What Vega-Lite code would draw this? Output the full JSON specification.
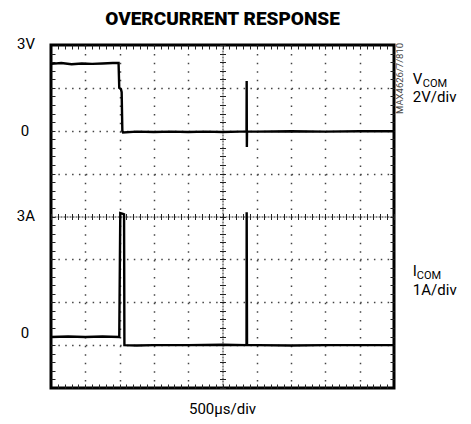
{
  "$schema": "https://vega.github.io/schema/vega-lite/v6.json",
  "autosize": "none",
  "width": 343,
  "height": 343,
  "padding": {"left": 51, "top": 45, "right": 77, "bottom": 36},
  "background": "white",
  "config": {
    "view": {"stroke": "black", "strokeWidth": 3},
    "text": {"font": "Roboto, Liberation Sans, sans-serif", "fontSize": 15, "color": "black"}
  },
  "resolve": {"axis": {"x": "independent", "y": "independent"}},
  "layer": [
    {
      "data": {"values": [
        {"series": "V", "t": 0, "v": 7.56}, {"series": "V", "t": 0.3, "v": 7.58}, {"series": "V", "t": 0.6, "v": 7.55},
        {"series": "V", "t": 0.9, "v": 7.57}, {"series": "V", "t": 1.2, "v": 7.56}, {"series": "V", "t": 1.5, "v": 7.57},
        {"series": "V", "t": 1.8, "v": 7.58}, {"series": "V", "t": 1.97, "v": 7.58}, {"series": "V", "t": 1.99, "v": 7.0},
        {"series": "V", "t": 2.04, "v": 6.97}, {"series": "V", "t": 2.06, "v": 6.9}, {"series": "V", "t": 2.08, "v": 6.0},
        {"series": "V", "t": 2.1, "v": 5.96}, {"series": "V", "t": 2.5, "v": 5.98}, {"series": "V", "t": 3, "v": 5.97},
        {"series": "V", "t": 3.5, "v": 5.98}, {"series": "V", "t": 4, "v": 5.97}, {"series": "V", "t": 4.5, "v": 5.98},
        {"series": "V", "t": 5, "v": 5.97}, {"series": "V", "t": 5.5, "v": 5.98}, {"series": "V", "t": 5.7, "v": 5.98},
        {"series": "V", "t": 5.705, "v": 7.16}, {"series": "V", "t": 5.71, "v": 5.62}, {"series": "V", "t": 5.715, "v": 5.98},
        {"series": "V", "t": 6, "v": 5.98}, {"series": "V", "t": 7, "v": 5.99}, {"series": "V", "t": 8, "v": 5.98},
        {"series": "V", "t": 9, "v": 5.99}, {"series": "V", "t": 10, "v": 5.99},
        {"series": "I", "t": 0, "v": 1.19}, {"series": "I", "t": 0.5, "v": 1.2}, {"series": "I", "t": 1, "v": 1.19},
        {"series": "I", "t": 1.5, "v": 1.2}, {"series": "I", "t": 1.99, "v": 1.19}, {"series": "I", "t": 2.02, "v": 4.08},
        {"series": "I", "t": 2.1, "v": 4.06}, {"series": "I", "t": 2.13, "v": 4.05}, {"series": "I", "t": 2.14, "v": 1.0},
        {"series": "I", "t": 2.5, "v": 0.99}, {"series": "I", "t": 3, "v": 1.0}, {"series": "I", "t": 4, "v": 1.0},
        {"series": "I", "t": 5, "v": 1.01}, {"series": "I", "t": 5.7, "v": 1.0}, {"series": "I", "t": 5.705, "v": 4.1},
        {"series": "I", "t": 5.715, "v": 1.0}, {"series": "I", "t": 6, "v": 1.0}, {"series": "I", "t": 7, "v": 0.99},
        {"series": "I", "t": 8, "v": 1.0}, {"series": "I", "t": 9, "v": 1.0}, {"series": "I", "t": 10, "v": 1.0}
      ]},
      "mark": {"type": "line", "color": "black", "strokeWidth": 2.4},
      "encoding": {
        "detail": {"field": "series"},
        "x": {"field": "t", "type": "quantitative", "scale": {"domain": [0, 10], "nice": false, "zero": false},
              "axis": {"orient": "bottom", "values": [1, 2, 3, 4, 6, 7, 8, 9], "grid": true, "gridDash": [1.5, 7.075], "gridColor": "#444", "gridWidth": 1.5,
                       "ticks": false, "labels": false, "domain": false, "title": null}},
        "y": {"field": "v", "type": "quantitative", "scale": {"domain": [0, 8], "nice": false, "zero": false},
              "axis": {"orient": "left", "values": [1, 2, 3, 5, 6, 7], "grid": true, "gridDash": [1.5, 5.36], "gridColor": "#444", "gridWidth": 1.5,
                       "ticks": false, "labels": false, "domain": false, "title": null}}
      }
    },
    {
      "data": {"values": [{"t": 0, "v": 0}]},
      "mark": {"type": "point", "opacity": 0},
      "encoding": {
        "x": {"field": "t", "type": "quantitative", "scale": {"domain": [0, 10], "nice": false, "zero": false},
              "axis": {"orient": "bottom", "offset": -171.5, "values": [0,0.2,0.4,0.6,0.8,1,1.2,1.4,1.6,1.8,2,2.2,2.4,2.6,2.8,3,3.2,3.4,3.6,3.8,4,4.2,4.4,4.6,4.8,5,5.2,5.4,5.6,5.8,6,6.2,6.4,6.6,6.8,7,7.2,7.4,7.6,7.8,8,8.2,8.4,8.6,8.8,9,9.2,9.4,9.6,9.8,10],
                       "tickSize": 3, "tickColor": "#222", "tickWidth": 1, "domain": true, "domainColor": "#222", "domainWidth": 1, "domainDash": [2, 1],
                       "labels": false, "grid": false, "title": null}},
        "y": {"field": "v", "type": "quantitative", "scale": {"domain": [0, 8], "nice": false, "zero": false},
              "axis": {"orient": "left", "offset": -171.5, "values": [0,0.2,0.4,0.6,0.8,1,1.2,1.4,1.6,1.8,2,2.2,2.4,2.6,2.8,3,3.2,3.4,3.6,3.8,4,4.2,4.4,4.6,4.8,5,5.2,5.4,5.6,5.8,6,6.2,6.4,6.6,6.8,7,7.2,7.4,7.6,7.8,8],
                       "tickSize": 3, "tickColor": "#222", "tickWidth": 1, "domain": true, "domainColor": "#222", "domainWidth": 1, "domainDash": [2, 1],
                       "labels": false, "grid": false, "title": null}}
      }
    },
    {
      "data": {"values": [{"t": 0, "v": 0}]},
      "mark": {"type": "point", "opacity": 0},
      "encoding": {
        "x": {"field": "t", "type": "quantitative", "scale": {"domain": [0, 10], "nice": false, "zero": false},
              "axis": {"orient": "top", "offset": -171.5, "values": [0,0.2,0.4,0.6,0.8,1,1.2,1.4,1.6,1.8,2,2.2,2.4,2.6,2.8,3,3.2,3.4,3.6,3.8,4,4.2,4.4,4.6,4.8,5,5.2,5.4,5.6,5.8,6,6.2,6.4,6.6,6.8,7,7.2,7.4,7.6,7.8,8,8.2,8.4,8.6,8.8,9,9.2,9.4,9.6,9.8,10],
                       "tickSize": 3, "tickColor": "#222", "tickWidth": 1, "domain": false,
                       "labels": false, "grid": false, "title": null}},
        "y": {"field": "v", "type": "quantitative", "scale": {"domain": [0, 8], "nice": false, "zero": false},
              "axis": {"orient": "right", "offset": -171.5, "values": [0,0.2,0.4,0.6,0.8,1,1.2,1.4,1.6,1.8,2,2.2,2.4,2.6,2.8,3,3.2,3.4,3.6,3.8,4,4.2,4.4,4.6,4.8,5,5.2,5.4,5.6,5.8,6,6.2,6.4,6.6,6.8,7,7.2,7.4,7.6,7.8,8],
                       "tickSize": 3, "tickColor": "#222", "tickWidth": 1, "domain": false,
                       "labels": false, "grid": false, "title": null}}
      }
    },
    {
      "data": {"values": [{"t": 0, "v": 0}]},
      "mark": {"type": "point", "opacity": 0},
      "encoding": {
        "x": {"field": "t", "type": "quantitative", "scale": {"domain": [0, 10], "nice": false, "zero": false},
              "axis": {"orient": "top", "offset": -343, "values": [0.2,0.4,0.6,0.8,1,1.2,1.4,1.6,1.8,2,2.2,2.4,2.6,2.8,3,3.2,3.4,3.6,3.8,4,4.2,4.4,4.6,4.8,5,5.2,5.4,5.6,5.8,6,6.2,6.4,6.6,6.8,7,7.2,7.4,7.6,7.8,8,8.2,8.4,8.6,8.8,9,9.2,9.4,9.6,9.8],
                       "tickSize": 4, "tickColor": "#222", "tickWidth": 1, "domain": false,
                       "labels": false, "grid": false, "title": null}},
        "y": {"field": "v", "type": "quantitative", "scale": {"domain": [0, 8], "nice": false, "zero": false},
              "axis": {"orient": "right", "offset": -343, "values": [0.2,0.4,0.6,0.8,1,1.2,1.4,1.6,1.8,2,2.2,2.4,2.6,2.8,3,3.2,3.4,3.6,3.8,4,4.2,4.4,4.6,4.8,5,5.2,5.4,5.6,5.8,6,6.2,6.4,6.6,6.8,7,7.2,7.4,7.6,7.8],
                       "tickSize": 4, "tickColor": "#222", "tickWidth": 1, "domain": false,
                       "labels": false, "grid": false, "title": null}}
      }
    },
    {
      "data": {"values": [{"t": 0, "v": 0}]},
      "mark": {"type": "point", "opacity": 0},
      "encoding": {
        "x": {"field": "t", "type": "quantitative", "scale": {"domain": [0, 10], "nice": false, "zero": false},
              "axis": {"orient": "bottom", "offset": -343, "values": [0.2,0.4,0.6,0.8,1,1.2,1.4,1.6,1.8,2,2.2,2.4,2.6,2.8,3,3.2,3.4,3.6,3.8,4,4.2,4.4,4.6,4.8,5,5.2,5.4,5.6,5.8,6,6.2,6.4,6.6,6.8,7,7.2,7.4,7.6,7.8,8,8.2,8.4,8.6,8.8,9,9.2,9.4,9.6,9.8],
                       "tickSize": 4, "tickColor": "#222", "tickWidth": 1, "domain": false,
                       "labels": false, "grid": false, "title": null}},
        "y": {"field": "v", "type": "quantitative", "scale": {"domain": [0, 8], "nice": false, "zero": false},
              "axis": {"orient": "left", "offset": -343, "values": [0.2,0.4,0.6,0.8,1,1.2,1.4,1.6,1.8,2,2.2,2.4,2.6,2.8,3,3.2,3.4,3.6,3.8,4,4.2,4.4,4.6,4.8,5,5.2,5.4,5.6,5.8,6,6.2,6.4,6.6,6.8,7,7.2,7.4,7.6,7.8],
                       "tickSize": 4, "tickColor": "#222", "tickWidth": 1, "domain": false,
                       "labels": false, "grid": false, "title": null}}
      }
    },
    {"data": {"values": [{}]},
     "mark": {"type": "text", "text": "OVERCURRENT RESPONSE", "fontSize": 19, "fontWeight": 900, "align": "center", "baseline": "alphabetic"},
     "encoding": {"x": {"datum": 5, "type": "quantitative", "scale": {"domain": [0, 10]}, "axis": null},
                  "y": {"datum": 8.47, "type": "quantitative", "scale": {"domain": [0, 8]}, "axis": null}}},
    {"data": {"values": [{}]},
     "mark": {"type": "text", "text": "3V", "align": "center", "baseline": "middle"},
     "encoding": {"x": {"datum": -0.73, "type": "quantitative", "scale": {"domain": [0, 10]}, "axis": null},
                  "y": {"datum": 8.02, "type": "quantitative", "scale": {"domain": [0, 8]}, "axis": null}}},
    {"data": {"values": [{}]},
     "mark": {"type": "text", "text": "0", "align": "center", "baseline": "middle"},
     "encoding": {"x": {"datum": -0.76, "type": "quantitative", "scale": {"domain": [0, 10]}, "axis": null},
                  "y": {"datum": 5.99, "type": "quantitative", "scale": {"domain": [0, 8]}, "axis": null}}},
    {"data": {"values": [{}]},
     "mark": {"type": "text", "text": "3A", "align": "center", "baseline": "middle"},
     "encoding": {"x": {"datum": -0.73, "type": "quantitative", "scale": {"domain": [0, 10]}, "axis": null},
                  "y": {"datum": 4.02, "type": "quantitative", "scale": {"domain": [0, 8]}, "axis": null}}},
    {"data": {"values": [{}]},
     "mark": {"type": "text", "text": "0", "align": "center", "baseline": "middle"},
     "encoding": {"x": {"datum": -0.76, "type": "quantitative", "scale": {"domain": [0, 10]}, "axis": null},
                  "y": {"datum": 1.29, "type": "quantitative", "scale": {"domain": [0, 8]}, "axis": null}}},
    {"data": {"values": [{}]},
     "mark": {"type": "text", "text": "V", "align": "left", "baseline": "alphabetic", "fontSize": 15},
     "encoding": {"x": {"datum": 10.55, "type": "quantitative", "scale": {"domain": [0, 10]}, "axis": null},
                  "y": {"datum": 7.1, "type": "quantitative", "scale": {"domain": [0, 8]}, "axis": null}}},
    {"data": {"values": [{}]},
     "mark": {"type": "text", "text": "COM", "align": "left", "baseline": "alphabetic", "fontSize": 11, "dx": 10, "dy": 3},
     "encoding": {"x": {"datum": 10.55, "type": "quantitative", "scale": {"domain": [0, 10]}, "axis": null},
                  "y": {"datum": 7.1, "type": "quantitative", "scale": {"domain": [0, 8]}, "axis": null}}},
    {"data": {"values": [{}]},
     "mark": {"type": "text", "text": "2V/div", "align": "left", "baseline": "alphabetic", "fontSize": 15},
     "encoding": {"x": {"datum": 10.55, "type": "quantitative", "scale": {"domain": [0, 10]}, "axis": null},
                  "y": {"datum": 6.66, "type": "quantitative", "scale": {"domain": [0, 8]}, "axis": null}}},
    {"data": {"values": [{}]},
     "mark": {"type": "text", "text": "I", "align": "left", "baseline": "alphabetic", "fontSize": 15},
     "encoding": {"x": {"datum": 10.55, "type": "quantitative", "scale": {"domain": [0, 10]}, "axis": null},
                  "y": {"datum": 2.62, "type": "quantitative", "scale": {"domain": [0, 8]}, "axis": null}}},
    {"data": {"values": [{}]},
     "mark": {"type": "text", "text": "COM", "align": "left", "baseline": "alphabetic", "fontSize": 11, "dx": 4, "dy": 3},
     "encoding": {"x": {"datum": 10.55, "type": "quantitative", "scale": {"domain": [0, 10]}, "axis": null},
                  "y": {"datum": 2.62, "type": "quantitative", "scale": {"domain": [0, 8]}, "axis": null}}},
    {"data": {"values": [{}]},
     "mark": {"type": "text", "text": "1A/div", "align": "left", "baseline": "alphabetic", "fontSize": 15},
     "encoding": {"x": {"datum": 10.55, "type": "quantitative", "scale": {"domain": [0, 10]}, "axis": null},
                  "y": {"datum": 2.18, "type": "quantitative", "scale": {"domain": [0, 8]}, "axis": null}}},
    {"data": {"values": [{}]},
     "mark": {"type": "text", "text": "500µs/div", "align": "center", "baseline": "alphabetic", "fontSize": 15},
     "encoding": {"x": {"datum": 5, "type": "quantitative", "scale": {"domain": [0, 10]}, "axis": null},
                  "y": {"datum": -0.6, "type": "quantitative", "scale": {"domain": [0, 8]}, "axis": null}}},
    {"data": {"values": [{}]},
     "mark": {"type": "text", "text": "MAX4626/7/810", "align": "right", "baseline": "middle", "angle": 270, "fontSize": 9.5, "color": "#444"},
     "encoding": {"x": {"datum": 10.18, "type": "quantitative", "scale": {"domain": [0, 10]}, "axis": null},
                  "y": {"datum": 8.05, "type": "quantitative", "scale": {"domain": [0, 8]}, "axis": null}}}
  ]
}
